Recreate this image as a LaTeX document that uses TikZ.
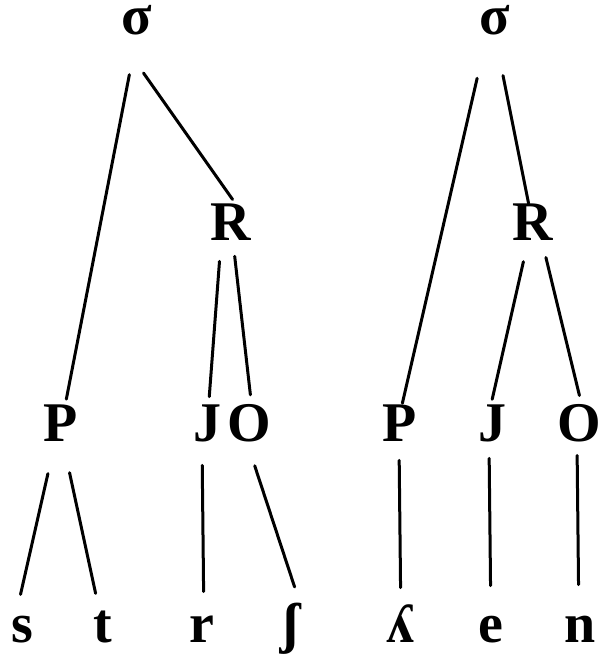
\documentclass[tikz,border=0pt]{standalone}
\usepackage{fontspec}
\setmainfont{Liberation Serif}
\begin{document}
\begin{tikzpicture}[x=0.5pt,y=-0.5pt,
    lbl/.style={anchor=base,inner sep=0pt,text height=0.7em,text depth=0.05em,
      font=\fontsize{28}{30}\selectfont\bfseries},
    top/.style={lbl,text height=0.45em},
    br/.style={line width=1.5pt,line cap=round}]
    \useasboundingbox (0,0) rectangle (602,654);
    % Left tree: labels
    \node[top] (sg1) at (137,34) {σ};
    \node[lbl] (R1) at (231,240) {R};
    \node[lbl] (P1) at (61,441) {P};
    \node[lbl] (J1) at (207,441) {J};
    \node[lbl] (O1) at (249,441) {O};
    \node[lbl] (s) at (22,642) {s};
    \node[lbl] (t) at (103,642) {t};
    \node[lbl] (r) at (202,642) {r};
    \node[lbl] (sh) at (291,642) {ʃ};
    % Left tree: branches
    \draw[br,shorten <=20pt,shorten >=14pt] (sg1.south) -- (P1.north);
    \draw[br,shorten <=23pt,shorten >=16pt] ([xshift=-10pt]sg1.south) -- ([xshift=10pt]R1.north);
    \draw[br,shorten <=10pt,shorten >=15pt] ([xshift=-5pt]R1.south) -- (J1.north);
    \draw[br,shorten <=7.5pt,shorten >=16pt] ([xshift=1pt]R1.south) -- ([xshift=2.5pt]O1.north);
    \draw[br,shorten <=16pt,shorten >=17pt] ([xshift=-3pt]P1.south) -- ([xshift=-4.5pt]s.north);
    \draw[br,shorten <=15.5pt,shorten >=17.5pt] ([xshift=1pt]P1.south) -- (t.north);
    \draw[br,shorten <=11.5pt,shorten >=18pt] ([xshift=-2.5pt]J1.south) -- ([xshift=1pt]r.north);
    \draw[br,shorten <=12.3pt,shorten >=21.4pt] ([xshift=-1pt]O1.south) -- ([xshift=8.5pt]sh.north);
    % Right tree: labels
    \node[top] (sg2) at (495,34) {σ};
    \node[lbl] (R2) at (533,240) {R};
    \node[lbl] (P2) at (400,441) {P};
    \node[lbl] (J2) at (492,441) {J};
    \node[lbl] (O2) at (579,441) {O};
    \node[lbl] (lam) at (400,642) {ʎ};
    \node[lbl] (e) at (491,642) {e};
    \node[lbl] (n) at (580,642) {n};
    % Right tree: branches
    \draw[br,shorten <=22pt,shorten >=12pt] ([xshift=-4pt]sg2.south) -- ([xshift=-1.5pt]P2.north);
    \draw[br,shorten <=20.5pt,shorten >=11.3pt] (sg2.south) -- (R2.north);
    \draw[br,shorten <=10.4pt,shorten >=14pt] ([xshift=-2.5pt]R2.south) -- ([xshift=-3pt]J2.north);
    \draw[br,shorten <=8.3pt,shorten >=16pt] ([xshift=4.5pt]R2.south) -- ([xshift=4pt]O2.north);
    \draw[br,shorten <=9pt,shorten >=20pt] ([xshift=-0.5pt]P2.south) -- ([xshift=0.5pt]lam.north);
    \draw[br,shorten <=8pt,shorten >=21pt] ([xshift=-1.5pt]J2.south) -- (e.north);
    \draw[br,shorten <=6.5pt,shorten >=21.5pt] ([xshift=-1pt]O2.south) -- ([xshift=-0.5pt]n.north);
\end{tikzpicture}
\end{document}
